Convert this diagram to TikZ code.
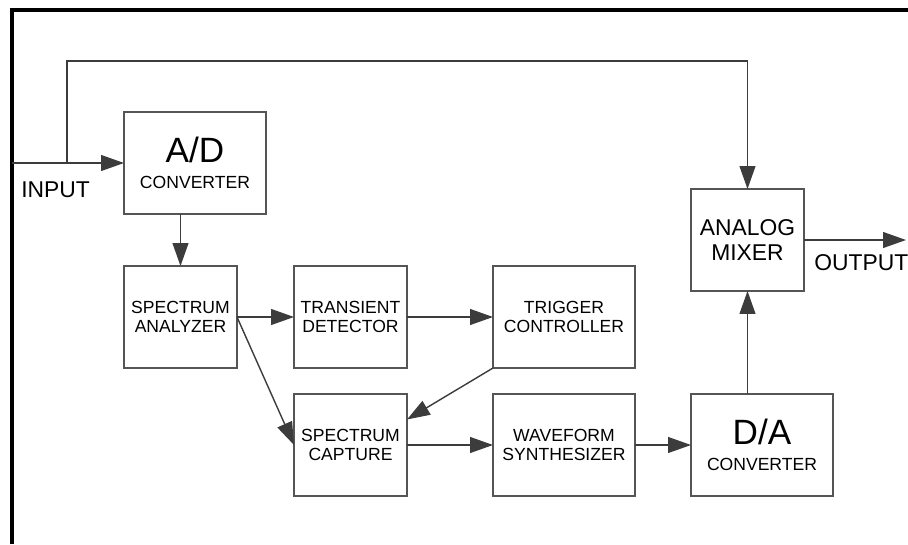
\documentclass[tikz,border=0pt]{standalone}
\usepackage{fontspec}
\setmainfont{Liberation Sans}
\usetikzlibrary{arrows.meta,calc,positioning}
\definecolor{linegray}{RGB}{60,60,60}
\definecolor{boxgray}{RGB}{85,85,85}

\begin{document}
\begin{tikzpicture}[
  font=\fontsize{10}{11}\selectfont,
  blk/.style={draw=boxgray, line width=0.8pt, align=center, minimum width=2.26cm, minimum height=2.04cm, inner sep=0pt, outer sep=0pt},
  wide/.style={blk, minimum width=2.84cm},
  big/.style={font=\fontsize{13}{14}\selectfont},
  lbl/.style={font=\fontsize{13}{14}\selectfont, inner sep=0pt},
  arr/.style={-{Triangle[length=13pt, width=9pt]}, draw=linegray, line width=0.8pt},
  frame/.style={line width=2.2pt}
]
\useasboundingbox (0,0) rectangle (18.16,-10.88);
\draw[frame] (0.24,-10.88) |- (18.16,-0.2);
\node[wide] (ad) at (3.90,-3.26) {{\fontsize{20}{20}\selectfont A/D}\\[4pt]CONVERTER};
\node[blk, below=1.04cm of ad.south west, anchor=north west] (sa) {SPECTRUM\\ANALYZER};
\node[blk, right=1.14cm of sa] (td) {TRANSIENT\\DETECTOR};
\node[wide, right=1.72cm of td] (tc) {TRIGGER\\CONTROLLER};
\node[blk, below=0.52cm of td] (sc) {SPECTRUM\\CAPTURE};
\node[wide, below=0.52cm of tc] (ws) {WAVEFORM\\SYNTHESIZER};
\node[wide, right=1.12cm of ws] (da) {{\fontsize{20}{20}\selectfont D/A}\\[4pt]CONVERTER};
\node[blk, big, above=2.06cm of da.north west, anchor=south west] (mx) {ANALOG\\MIXER};
\node[lbl, anchor=west] (inlbl) at (0.42,-3.80) {INPUT};
\node[lbl, anchor=west] (outlbl) at (16.28,-5.26) {OUTPUT};
\coordinate (in) at (0.24,-3.26);
\coordinate (tap) at (1.34,-3.26);
\coordinate (out) at ($(mx.east)+(2.04,0)$);
% signal path
\draw[arr] (in) -- (ad);
\draw[arr] (tap) -- ++(0,2.04) -| (mx.north);
\draw[arr] (sa.north |- ad.south) -- (sa.north);
\draw[arr] (sa) -- (td);
\draw[arr] (td) -- (tc);
\draw[arr] (sa.east) -- (sc.west);
\draw[arr] (tc.south west) -- ($(sc.north east)!0.25!(sc.south east)$);
\draw[arr] (sc) -- (ws);
\draw[arr] (ws) -- (da);
\draw[arr] (mx.south |- da.north) -- (mx.south);
\draw[arr] (mx) -- (out);
\end{tikzpicture}
\end{document}
